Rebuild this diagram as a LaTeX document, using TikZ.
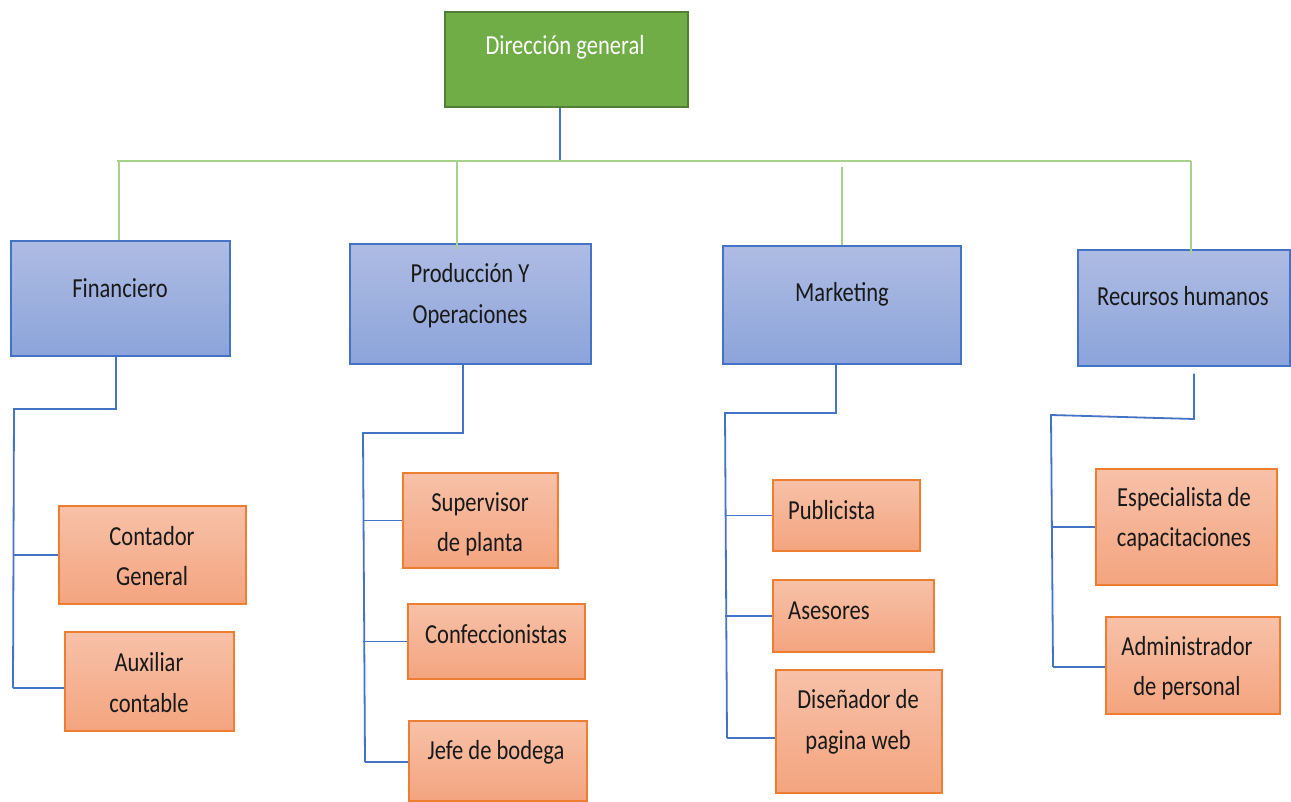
\documentclass[tikz,border=0pt]{standalone}
\usepackage{fontspec}
\setmainfont{Carlito}[FakeStretch=0.82]
\definecolor{gfill}{HTML}{70AD47}
\definecolor{gborder}{HTML}{507E32}
\definecolor{gline}{HTML}{A9D18E}
\definecolor{btop}{HTML}{AEBCE3}
\definecolor{bbot}{HTML}{8CA4DA}
\definecolor{bline}{HTML}{4472C4}
\definecolor{otop}{HTML}{F7C1A8}
\definecolor{obot}{HTML}{F4A47F}
\definecolor{oline}{HTML}{ED7D31}
\tikzset{
  x=1pt, y=-1pt,
  gbox/.style={draw=gborder, fill=gfill, line width=1.2pt, inner sep=0pt},
  bbox/.style={draw=bline, top color=btop, bottom color=bbot, line width=1.3pt, inner sep=0pt},
  obox/.style={draw=oline, top color=otop, bottom color=obot, line width=1.3pt, inner sep=0pt},
  txt/.style={font=\fontsize{27.5}{40.5}\selectfont, align=center, inner sep=0pt, text=black!90},
  bconn/.style={draw=bline, line width=1.8pt},
  gconn/.style={draw=gline, line width=2.2pt},
}
\begin{document}
\begin{tikzpicture}
\useasboundingbox (0,0) rectangle (1291,802);
% top
\node[gbox, minimum width=243, minimum height=95] (dg) at (566.5,59.5) {};
\node[txt, text=white] (dgt) at (565,47) {Dirección general};
% departments
\node[bbox, minimum width=219, minimum height=115] (fin) at (120.5,298.5) {};
\node[txt] (fint) at (120,288) {Financiero};
\node[bbox, minimum width=241, minimum height=120] (pro) at (470.5,304) {};
\node[txt] (prot) at (470,295.5) {Producción Y\\Operaciones};
\node[bbox, minimum width=238, minimum height=118] (mkt) at (842,305) {};
\node[txt] (mktt) at (842,294) {Marketing};
\node[bbox, minimum width=212, minimum height=116] (rh) at (1184,308) {};
\node[txt] (rht) at (1183,296) {Recursos humanos};
% positions
\node[obox, minimum width=187, minimum height=98] (cg) at (152.5,555) {};
\node[txt] (cgt) at (152,556) {Contador\\General};
\node[obox, minimum width=169, minimum height=99] (ac) at (149.5,681.5) {};
\node[txt] (act) at (149,682.5) {Auxiliar\\contable};
\node[obox, minimum width=155, minimum height=95] (sp) at (480.5,520.5) {};
\node[txt] (spt) at (480,524.5) {Supervisor\\de planta};
\node[obox, minimum width=177, minimum height=75] (co) at (496.5,641.5) {};
\node[txt] (cot) at (496,634) {Confeccionistas};
\node[obox, minimum width=178, minimum height=80] (jb) at (498,761) {};
\node[txt] (jbt) at (496,752) {Jefe de bodega};
\node[obox, minimum width=147, minimum height=71] (pu) at (846.5,515.5) {};
\node[txt, anchor=west] (put) at (788,510) {Publicista};
\node[obox, minimum width=161, minimum height=72] (as) at (853.5,616) {};
\node[txt, anchor=west] (ast) at (788,611) {Asesores};
\node[obox, minimum width=166, minimum height=123] (di) at (859,731.5) {};
\node[txt] (dit) at (858,722) {Diseñador de\\pagina web};
\node[obox, minimum width=181, minimum height=116] (es) at (1186.5,527) {};
\node[txt] (est) at (1184,519) {Especialista de\\capacitaciones};
\node[obox, minimum width=174, minimum height=97] (ad) at (1193,665.5) {};
\node[txt] (adt) at (1187,668) {Administrador\\de personal};
% top connectors
\coordinate (bus) at (560,161);
\coordinate (gL) at (117,161);
\coordinate (gR) at (1191,161);
\coordinate (g1) at (119,161);
\coordinate (g2) at (457,161);
\coordinate (g3) at (842,167);
\draw[bconn] (dg.south -| bus) -- (bus);
\draw[gconn] (gL) -- (gR);
\draw[gconn] (g1) -- (g1 |- fin.north);
\draw[gconn] (g2) -- ([yshift=-6pt]g2 |- pro.north);
\draw[gconn] (g3) -- (g3 |- mkt.north);
\draw[gconn] (gR) -- ([yshift=-5pt]gR |- rh.north);
% Financiero
\coordinate (f1) at (116,409);
\coordinate (f2) at (14,409);
\coordinate (f3) at (13,688);
\draw[bconn] (f1 |- fin.south) -- (f1) -- (f2) -- (f3);
\draw[bconn] (f2 |- cg.west) -- (cg.west);
\draw[bconn] (f3) -- (ac.west |- f3);
% Produccion
\coordinate (p1) at (463,433);
\coordinate (p2) at (363,433);
\coordinate (p3) at (365,762);
\draw[bconn] (p1 |- pro.south) -- (p1) -- (p2) -- (p3);
\draw[bconn] (p2 |- sp.west) -- (sp.west);
\draw[bconn] (p2 |- co.west) -- (co.west);
\draw[bconn] (p3) -- (jb.west |- p3);
% Marketing
\coordinate (m1) at (836,413);
\coordinate (m2) at (725,413);
\coordinate (m3) at (727,738);
\draw[bconn] (m1 |- mkt.south) -- (m1) -- (m2) -- (m3);
\draw[bconn] (m2 |- pu.west) -- (pu.west);
\draw[bconn] (m2 |- as.west) -- (as.west);
\draw[bconn] (m3) -- (di.west |- m3);
% Recursos humanos
\coordinate (r1) at (1194,419);
\coordinate (r2) at (1051,415);
\coordinate (r3) at (1053,667);
\draw[bconn] ([yshift=-7pt]r1 |- rh.south) -- (r1) -- (r2) -- (r3);
\draw[bconn] (r2 |- es.west) -- (es.west);
\draw[bconn] (r3) -- (ad.west |- r3);
\end{tikzpicture}
\end{document}
